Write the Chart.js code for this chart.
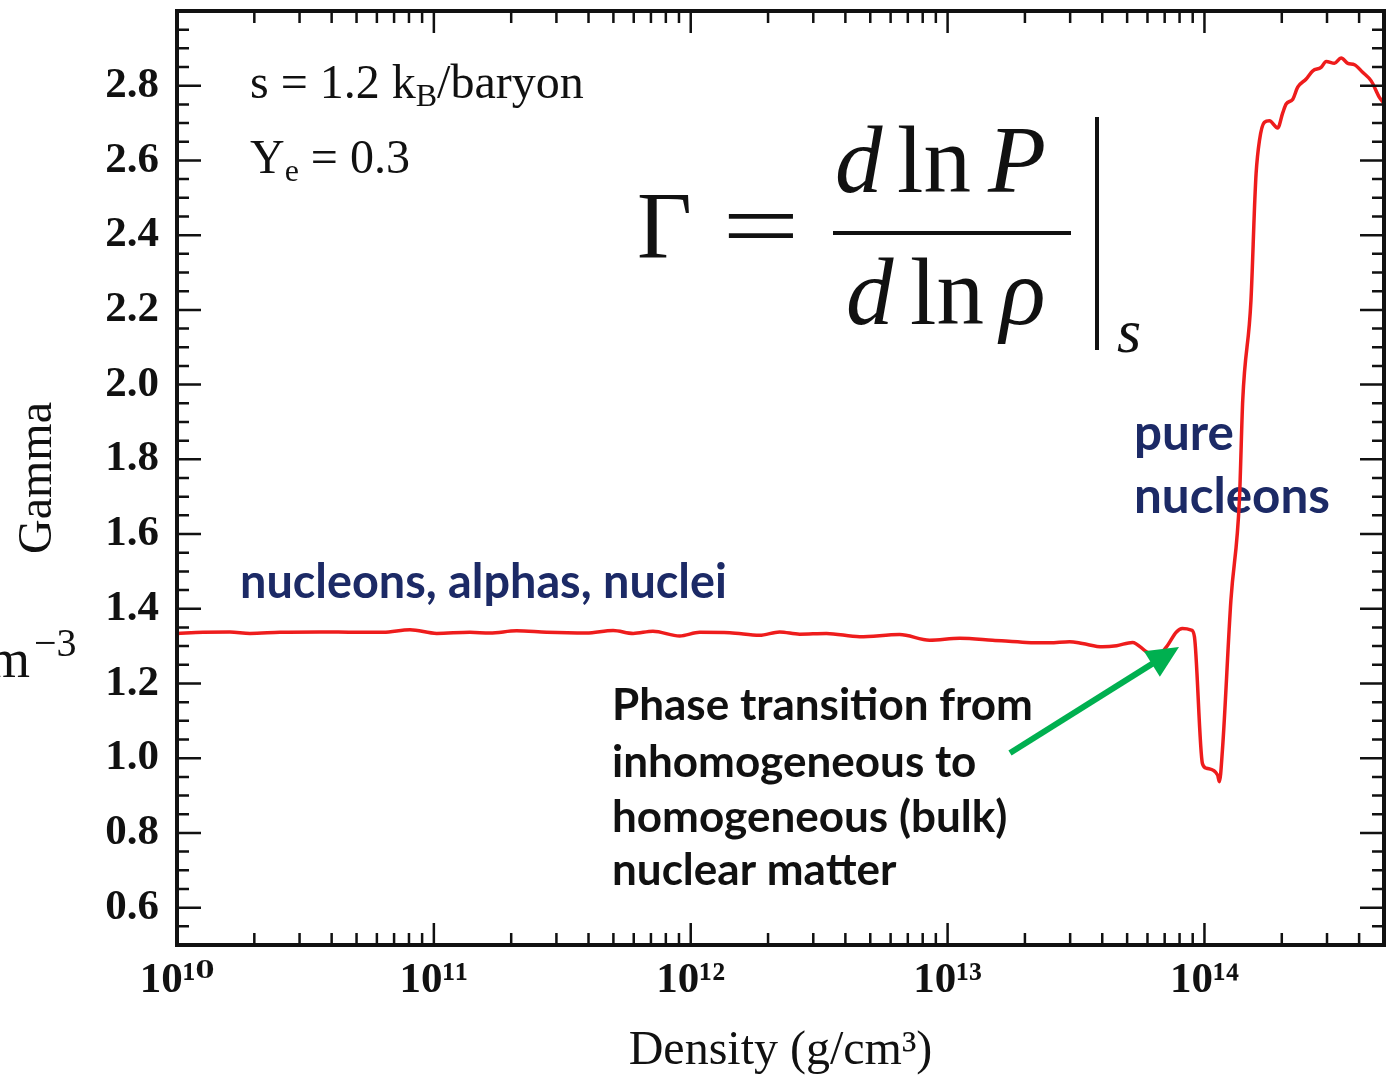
<!DOCTYPE html>
<html>
<head>
<meta charset="utf-8">
<script src="https://cdn.jsdelivr.net/npm/chart.js@4.4.0/dist/chart.umd.min.js"></script>
<style>
  html, body { margin: 0; padding: 0; background: #fff; }
</style>
</head>
<body>
<canvas id="gammaChart" width="1391" height="1075"></canvas>
<script>
// log10 of the density (g/cm^3)
var logDensity = [10.000, 10.102, 10.206, 10.284, 10.401, 10.556, 10.699, 10.803, 10.907, 11.011,
                  11.140, 11.218, 11.322, 11.439, 11.594, 11.698, 11.776, 11.853, 11.957, 12.035,
                  12.152, 12.268, 12.346, 12.424, 12.528, 12.658, 12.813, 12.930, 13.047, 13.175,
                  13.306, 13.397, 13.475, 13.525, 13.603, 13.658, 13.720, 13.774, 13.813, 13.852,
                  13.891, 13.914, 13.949, 13.961, 13.992, 14.008, 14.051, 14.058, 14.070, 14.103,
                  14.136, 14.149, 14.181, 14.196, 14.201, 14.214, 14.233, 14.253, 14.285, 14.305,
                  14.318, 14.344, 14.363, 14.396, 14.422, 14.454, 14.474, 14.506, 14.532, 14.558,
                  14.584, 14.616, 14.649, 14.681, 14.700];
var gamma = [1.334, 1.337, 1.338, 1.334, 1.337, 1.338, 1.337, 1.337, 1.344, 1.334,
             1.337, 1.335, 1.341, 1.337, 1.335, 1.342, 1.334, 1.340, 1.327, 1.337,
             1.336, 1.329, 1.338, 1.332, 1.334, 1.325, 1.331, 1.316, 1.321, 1.316,
             1.310, 1.309, 1.312, 1.307, 1.298, 1.301, 1.310, 1.285, 1.273, 1.298,
             1.338, 1.347, 1.343, 1.325, 0.986, 0.973, 0.955, 0.937, 1.022, 1.423,
             1.690, 1.958, 2.225, 2.493, 2.565, 2.653, 2.702, 2.706, 2.687, 2.728,
             2.751, 2.764, 2.796, 2.818, 2.840, 2.849, 2.865, 2.860, 2.874, 2.860,
             2.856, 2.836, 2.813, 2.769, 2.752];

var xTickPowers = [10, 11, 12, 13, 14];
var yTickLabels = ['0.6', '0.8', '1.0', '1.2', '1.4', '1.6', '1.8', '2.0', '2.2', '2.4', '2.6', '2.8'];

var SERIF = '"Liberation Serif", "DejaVu Serif", serif';
var SANS = 'Lato, "Open Sans", sans-serif';
var NAVY = '#1c2a66';

var points = [];
for (var i = 0; i < logDensity.length; i++) {
    points.push({ x: Math.pow(10, logDensity[i]), y: gamma[i] });
}

var SUP = { '0': '\u2070', '1': '\u00b9', '2': '\u00b2', '3': '\u00b3', '4': '\u2074' };
function supNum(n) {
    return String(n).split('').map(function (c) { return SUP[c]; }).join('');
}
function isPow10(v) {
    var e = Math.log10(v);
    return Math.abs(e - Math.round(e)) < 1e-9;
}
function isYLabel(v) {
    return Math.abs(v * 10 - Math.round(v * 10)) < 1e-6 && yTickLabels.indexOf(v.toFixed(1)) >= 0;
}

// draw a row of text pieces (for subscripts)
function drawRuns(ctx, x, y, parts) {
    parts.forEach(function (p) {
        ctx.font = p.font;
        ctx.fillText(p.t, x, y + (p.dy || 0));
        x += ctx.measureText(p.t).width;
    });
}
// font size picked so the text covers a given width
function fitSize(ctx, text, width, weight, family) {
    ctx.font = weight + ' 100px ' + family;
    return 100 * width / ctx.measureText(text).width;
}

var annotations = {
    id: 'annotations',
    beforeDatasetsDraw: function (chart) {
        var ctx = chart.ctx;
        ctx.save();
        ctx.textBaseline = 'alphabetic';
        ctx.textAlign = 'left';
        ctx.fillStyle = '#111';

        var big = '48px ' + SERIF, small = '32px ' + SERIF;
        drawRuns(ctx, 250, 98, [{ t: 's = 1.2 k', font: big }, { t: 'B', font: small, dy: 8 }, { t: '/baryon', font: big }]);
        drawRuns(ctx, 250, 173, [{ t: 'Y', font: big }, { t: 'e', font: small, dy: 8 }, { t: ' = 0.3', font: big }]);

        // formula
        var f = '95px ' + SERIF, fi = 'italic 95px ' + SERIF;
        ctx.font = f; ctx.fillText('\u0393', 637, 258);
        ctx.save(); ctx.translate(722, 258); ctx.scale(1.45, 1); ctx.font = f; ctx.fillText('=', 0, 0); ctx.restore();
        ctx.font = fi; ctx.fillText('d', 835, 192);
        ctx.font = f; ctx.fillText('ln', 897, 192);
        ctx.font = fi; ctx.fillText('P', 988, 192);
        ctx.font = fi; ctx.fillText('d', 846, 324);
        ctx.font = f; ctx.fillText('ln', 910, 324);
        ctx.font = fi; ctx.fillText('\u03c1', 1000, 324);
        ctx.font = 'italic 62px ' + SERIF; ctx.fillText('s', 1117, 352);
        ctx.fillRect(833, 231, 238, 4);
        ctx.fillRect(1095, 117, 4, 233);

        // cut-off text at the left edge
        ctx.font = '54px ' + SERIF; ctx.fillText('m', -12, 677);
        ctx.font = '40px ' + SERIF; ctx.fillText('\u22123', 34, 656);

        // labels
        ctx.fillStyle = NAVY;
        var s1 = fitSize(ctx, 'nucleons, alphas, nuclei', 487, 'bold', SANS);
        ctx.font = 'bold ' + s1 + 'px ' + SANS;
        ctx.fillText('nucleons, alphas, nuclei', 240, 598);
        var s2 = fitSize(ctx, 'nucleons', 196, 'bold', SANS);
        ctx.font = 'bold ' + s2 + 'px ' + SANS;
        ctx.fillText('pure', 1134, 450);
        ctx.fillText('nucleons', 1134, 513);

        ctx.fillStyle = '#111';
        var s3 = fitSize(ctx, 'Phase transition from', 421, 'bold', SANS);
        ctx.font = 'bold ' + s3 + 'px ' + SANS;
        ctx.fillText('Phase transition from', 612, 720);
        ctx.fillText('inhomogeneous to', 612, 777);
        ctx.fillText('homogeneous (bulk)', 612, 832);
        ctx.fillText('nuclear matter', 612, 885);
        ctx.restore();
    },
    afterDatasetsDraw: function (chart) {
        var ctx = chart.ctx;
        // green arrow
        var x0 = 1010, y0 = 753, x1 = 1179, y1 = 647;
        var dx = x1 - x0, dy = y1 - y0, len = Math.sqrt(dx * dx + dy * dy);
        var ux = dx / len, uy = dy / len;
        var bx = x1 - 32 * ux, by = y1 - 32 * uy;
        ctx.save();
        ctx.strokeStyle = '#00b050';
        ctx.fillStyle = '#00b050';
        ctx.lineWidth = 6;
        ctx.beginPath(); ctx.moveTo(x0, y0); ctx.lineTo(bx + 4 * ux, by + 4 * uy); ctx.stroke();
        ctx.beginPath();
        ctx.moveTo(x1, y1);
        ctx.lineTo(bx - uy * 15, by + ux * 15);
        ctx.lineTo(bx + uy * 15, by - ux * 15);
        ctx.closePath(); ctx.fill();
        ctx.restore();
    }
};

// inward ticks on all four sides plus the frame
var frameTicks = {
    id: 'frameTicks',
    afterDatasetsDraw: function (chart) {
        var ctx = chart.ctx, a = chart.chartArea;
        var xs = chart.scales.x, ys = chart.scales.y;
        ctx.save();
        ctx.strokeStyle = '#111';
        ctx.lineWidth = 2.5;
        ctx.beginPath();
        xs.ticks.forEach(function (t) {
            var px = xs.getPixelForValue(t.value);
            var l = isPow10(t.value) ? 22 : 12;
            ctx.moveTo(px, a.bottom); ctx.lineTo(px, a.bottom - l);
            ctx.moveTo(px, a.top); ctx.lineTo(px, a.top + l);
        });
        ys.ticks.forEach(function (t) {
            var py = ys.getPixelForValue(t.value);
            var l = isYLabel(t.value) ? 24 : 12;
            ctx.moveTo(a.left, py); ctx.lineTo(a.left + l, py);
            ctx.moveTo(a.right, py); ctx.lineTo(a.right - l, py);
        });
        ctx.stroke();
        ctx.lineWidth = 4;
        ctx.strokeRect(a.left, a.top, a.right - a.left, a.bottom - a.top);
        ctx.restore();
    }
};

var canvas = document.getElementById('gammaChart').getContext('2d');

var gammaChart = new Chart(canvas, {
    type: 'line',
    data: {
        datasets: [{
            label: 'Gamma',
            data: points,
            borderColor: '#ee1c1c',
            borderWidth: 3.5,
            pointRadius: 0,
            fill: false,
            cubicInterpolationMode: 'monotone'
        }]
    },
    options: {
        responsive: false,
        animation: false,
        devicePixelRatio: 1,
        layout: { padding: { top: 11, right: 7, left: 0, bottom: 0 } },
        plugins: {
            legend: { display: false },
            tooltip: { enabled: false }
        },
        scales: {
            x: {
                type: 'logarithmic',
                min: 1e10,
                max: 5e14,
                grid: { display: false, drawTicks: false },
                border: { display: false },
                afterBuildTicks: function (scale) {
                    var t = [];
                    xTickPowers.forEach(function (p) {
                        for (var m = 1; m <= 9; m++) {
                            var v = m * Math.pow(10, p);
                            if (v <= 5e14) t.push({ value: v });
                        }
                    });
                    scale.ticks = t;
                },
                afterFit: function (scale) {
                    scale.height = 130;
                    scale.paddingLeft = 0;
                    scale.paddingRight = 0;
                },
                ticks: {
                    autoSkip: false,
                    maxRotation: 0,
                    padding: 10,
                    color: '#111',
                    font: { family: SERIF, weight: 'bold', size: 43 },
                    callback: function (v) {
                        if (!isPow10(v)) return '';
                        return '10' + supNum(Math.round(Math.log10(v)));
                    }
                },
                title: {
                    display: true,
                    text: 'Density (g/cm\u00b3)',
                    color: '#111',
                    font: { family: SERIF, size: 48, lineHeight: 1 },
                    padding: { top: 0, bottom: 0 }
                }
            },
            y: {
                min: 0.5,
                max: 3.0,
                grid: { display: false, drawTicks: false },
                border: { display: false },
                afterBuildTicks: function (scale) {
                    var t = [];
                    for (var i = 10; i <= 60; i++) t.push({ value: i / 20 });
                    scale.ticks = t;
                },
                afterFit: function (scale) {
                    scale.width = 177;
                    scale.paddingTop = 0;
                    scale.paddingBottom = 0;
                },
                ticks: {
                    autoSkip: false,
                    padding: 18,
                    color: '#111',
                    font: { family: SERIF, weight: 'bold', size: 43 },
                    callback: function (v) {
                        return isYLabel(v) ? v.toFixed(1) : '';
                    }
                },
                title: {
                    display: true,
                    text: 'Gamma',
                    color: '#111',
                    font: { family: SERIF, size: 48, lineHeight: 1.2 },
                    padding: { top: 10, bottom: 0 }
                }
            }
        }
    },
    plugins: [annotations, frameTicks]
});
</script>
</body>
</html>
